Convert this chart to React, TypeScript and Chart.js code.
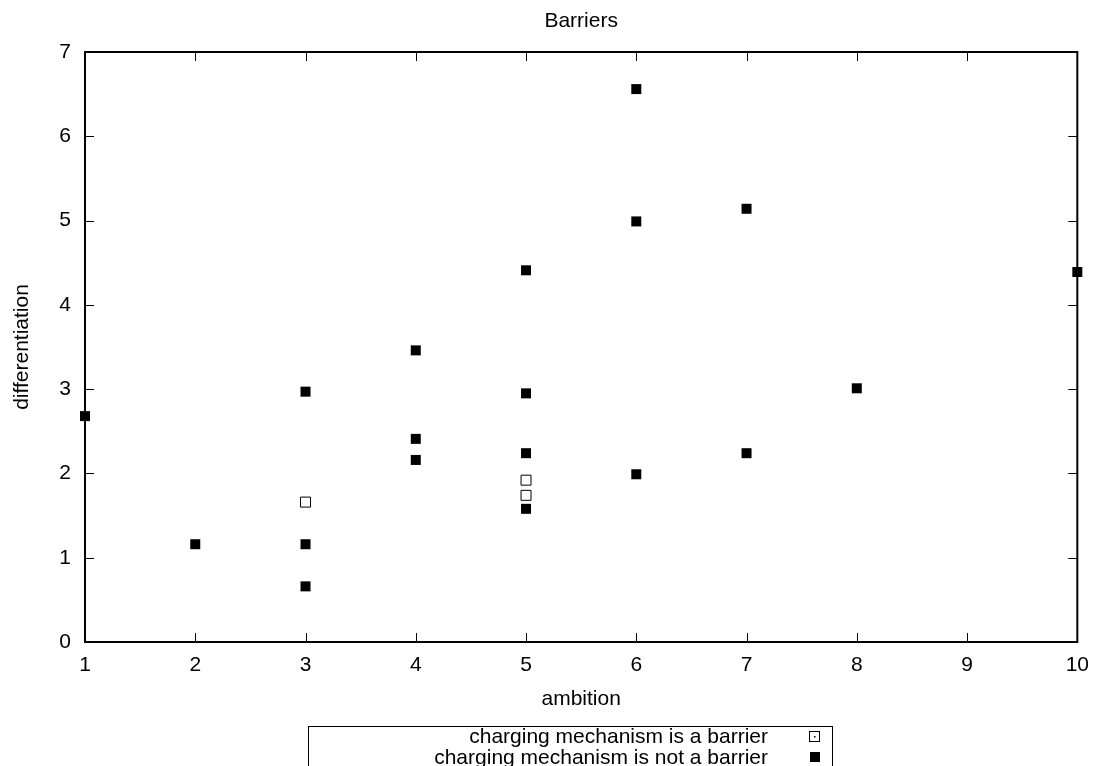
import React, { useEffect, useRef } from "react";
import { Chart, registerables } from "chart.js";

Chart.register(...registerables);

const chartTitle = "Barriers";
const xAxisTitle = "ambition";
const yAxisTitle = "differentiation";
const barrierLabel = "charging mechanism is a barrier";
const notBarrierLabel = "charging mechanism is not a barrier";

const barrierX = [3, 5, 5];
const barrierY = [1.66, 1.92, 1.74];

const notBarrierX = [1, 2, 3, 3, 3, 4, 4, 4, 5, 5, 5, 5, 6, 6, 6, 7, 7, 8, 10];
const notBarrierY = [2.68, 1.16, 2.97, 1.16, 0.66, 3.46, 2.41, 2.16, 4.41, 2.95, 2.24, 1.58, 6.56, 4.99, 1.99, 5.14, 2.24, 3.01, 4.39];

const xTicks = [1, 2, 3, 4, 5, 6, 7, 8, 9, 10];
const yTicks = [0, 1, 2, 3, 4, 5, 6, 7];

const FONT = "'Liberation Sans', Arial, sans-serif";

const framePlugin = {
  id: "gnuFrame",
  beforeDatasetsDraw(chart: any) {
    const { ctx, chartArea, scales } = chart;
    const { left, right, top, bottom } = chartArea;
    ctx.save();
    ctx.strokeStyle = "#000";
    ctx.lineWidth = 1;
    const tl = 9;
    ctx.beginPath();
    xTicks.forEach((v) => {
      const x = Math.round(scales.x.getPixelForValue(v)) + 0.5;
      ctx.moveTo(x, bottom);
      ctx.lineTo(x, bottom - tl);
      ctx.moveTo(x, top);
      ctx.lineTo(x, top + tl);
    });
    yTicks.forEach((v) => {
      const y = Math.round(scales.y.getPixelForValue(v)) + 0.5;
      ctx.moveTo(left, y);
      ctx.lineTo(left + tl, y);
      ctx.moveTo(right, y);
      ctx.lineTo(right - tl, y);
    });
    ctx.stroke();
    ctx.lineWidth = 2;
    ctx.strokeRect(left, top, right - left, bottom - top);
    ctx.restore();
  },
  afterDraw(chart: any) {
    const { ctx, chartArea } = chart;
    const { left, right, top, bottom } = chartArea;
    const cx = (left + right) / 2;
    ctx.save();
    ctx.fillStyle = "#000";
    ctx.font = `21px ${FONT}`;
    ctx.textAlign = "center";
    ctx.textBaseline = "alphabetic";
    ctx.fillText(chartTitle, cx, 27);
    ctx.fillText(xAxisTitle, cx, 705);
    ctx.save();
    ctx.translate(28, (top + bottom) / 2);
    ctx.rotate(-Math.PI / 2);
    ctx.fillText(yAxisTitle, 0, 0);
    ctx.restore();

    // legend box
    ctx.lineWidth = 1;
    ctx.strokeStyle = "#000";
    ctx.strokeRect(308.5, 726.5, 524, 80);
    ctx.textAlign = "right";
    ctx.fillText(barrierLabel, 768, 743);
    ctx.fillText(notBarrierLabel, 768, 764);
    // legend markers
    ctx.fillStyle = "#fff";
    ctx.fillRect(809.5, 731.5, 10, 10);
    ctx.strokeRect(809.5, 731.5, 10, 10);
    ctx.fillStyle = "#000";
    ctx.fillRect(814, 736, 1.5, 1.5);
    ctx.fillRect(810, 752, 10, 10);
    ctx.restore();
  },
};

export default function App() {
  const ref = useRef<HTMLCanvasElement | null>(null);
  useEffect(() => {
    if (!ref.current) return;
    const openPts = barrierX.map((x, i) => ({ x, y: barrierY[i] }));
    const filledPts = notBarrierX.map((x, i) => ({ x, y: notBarrierY[i] }));
    const chart = new Chart(ref.current, {
      type: "scatter",
      data: {
        datasets: [
          {
            label: notBarrierLabel,
            data: filledPts,
            pointStyle: "rect",
            pointRadius: 7.07,
            pointBackgroundColor: "#000",
            pointBorderColor: "#000",
            pointBorderWidth: 0,
            clip: false,
          } as any,
          {
            label: barrierLabel,
            data: openPts,
            pointStyle: "rect",
            pointRadius: 7.07,
            pointBackgroundColor: "#fff",
            pointBorderColor: "#000",
            pointBorderWidth: 1,
            clip: false,
          } as any,
          {
            label: "centre",
            data: openPts,
            pointStyle: "rect",
            pointRadius: 1.1,
            pointBackgroundColor: "#000",
            pointBorderColor: "#000",
            pointBorderWidth: 0,
            clip: false,
          } as any,
        ],
      },
      options: {
        animation: false,
        responsive: false,
        maintainAspectRatio: false,
        layout: { padding: { top: 52, right: 18, bottom: 0, left: 0 } },
        plugins: {
          legend: { display: false },
          title: { display: false },
          tooltip: { enabled: false },
        },
        scales: {
          x: {
            type: "linear",
            min: 1,
            max: 10,
            afterFit: (s: any) => {
              s.height = 124;
            },
            afterBuildTicks: (s: any) => {
              s.ticks = xTicks.map((v) => ({ value: v }));
            },
            grid: { display: false, drawTicks: false },
            border: { display: false },
            ticks: {
              padding: 11,
              color: "#000",
              font: { family: FONT, size: 21 },
              maxRotation: 0,
            },
          },
          y: {
            type: "linear",
            min: 0,
            max: 7,
            afterFit: (s: any) => {
              s.width = 85;
            },
            afterBuildTicks: (s: any) => {
              s.ticks = yTicks.map((v) => ({ value: v }));
            },
            grid: { display: false, drawTicks: false },
            border: { display: false },
            ticks: {
              padding: 14,
              color: "#000",
              font: { family: FONT, size: 21 },
            },
          },
        },
      } as any,
      plugins: [framePlugin],
    });
    return () => chart.destroy();
  }, []);
  return (
    <div style={{ position: "fixed", left: 0, top: 0, width: 1100, height: 766, background: "#fff" }}>
      <canvas ref={ref} width={1100} height={766} style={{ width: 1100, height: 766, display: "block" }} />
    </div>
  );
}
